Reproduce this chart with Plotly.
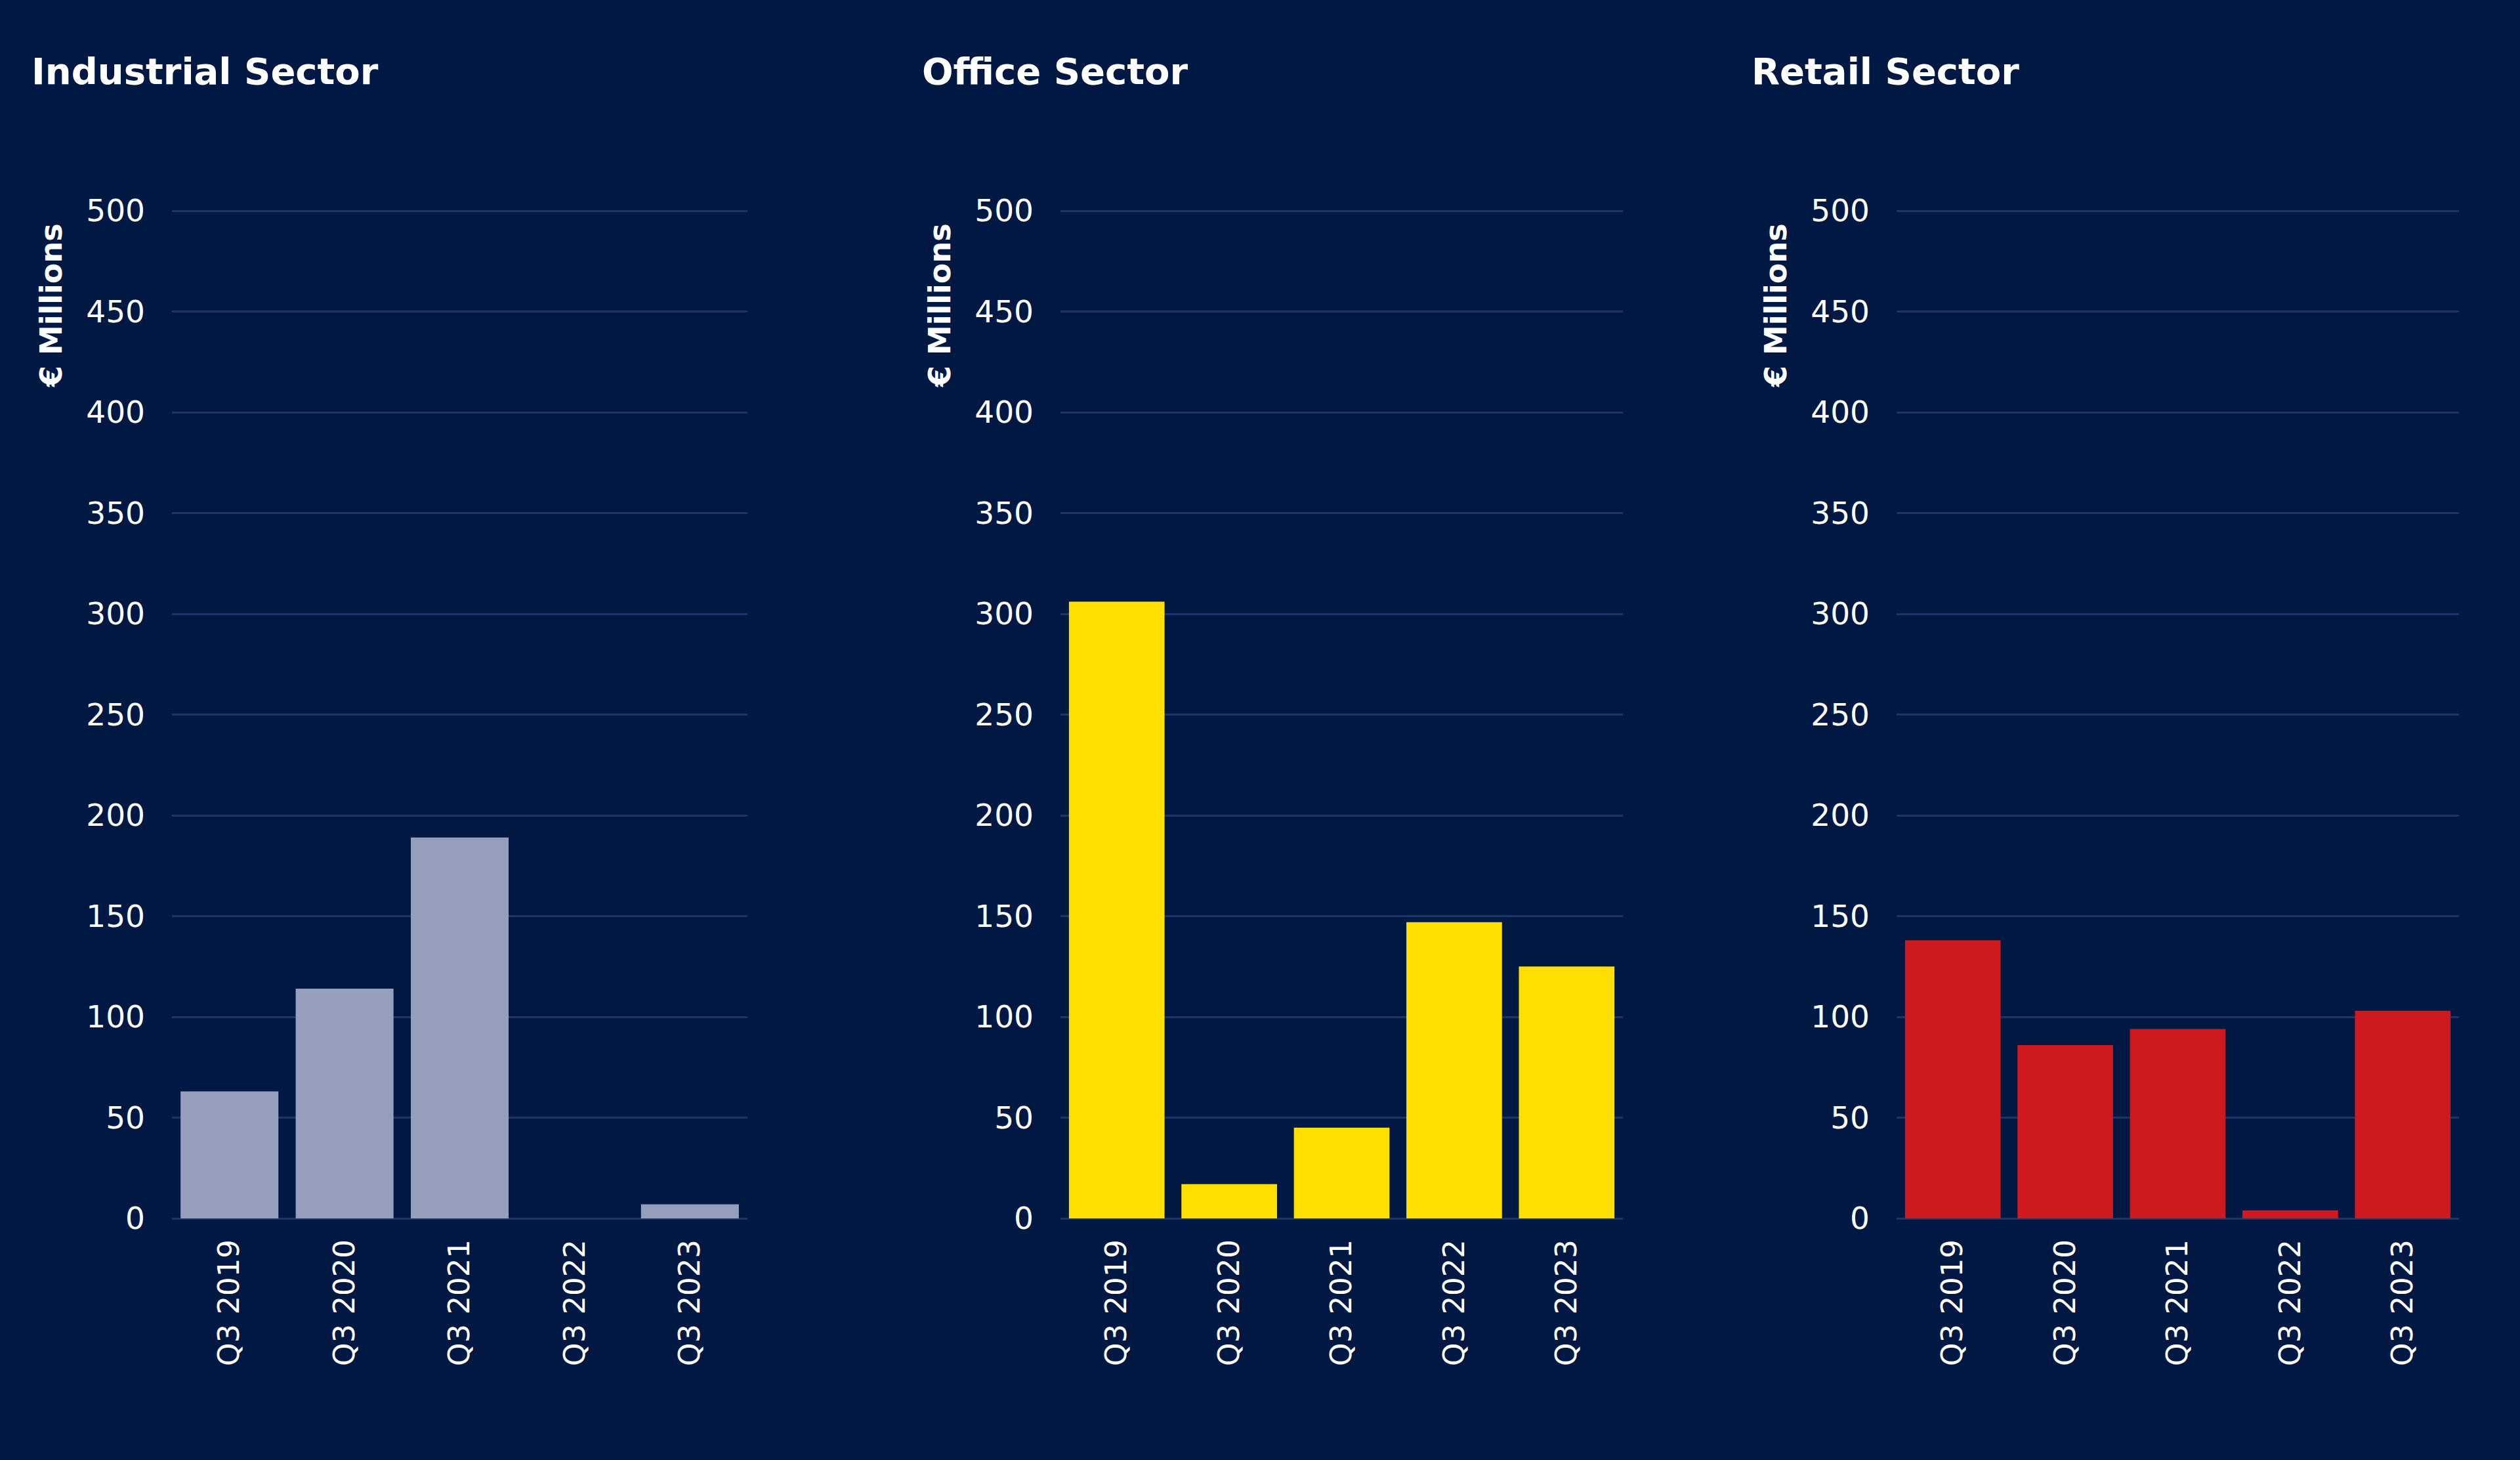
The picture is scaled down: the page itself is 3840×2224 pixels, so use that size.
import plotly.graph_objects as go

quarters = ["Q3 2019", "Q3 2020", "Q3 2021", "Q3 2022", "Q3 2023"]
industrial = [63, 114, 189, 0, 7]
office = [306, 17, 45, 147, 125]
retail = [138, 86, 94, 4, 103]
titles = ["Industrial Sector", "Office Sector", "Retail Sector"]
y_ticks = [0, 50, 100, 150, 200, 250, 300, 350, 400, 450, 500]

W, H = 3840, 2224
BG = "#011843"
GRID = "#1e3464"
FONT = "DejaVu Sans"

series = [industrial, office, retail]
colors = ["#959fbb", "#ffdf00", "#cc1a1e"]
x_dom_px = [(262, 1139), (1616, 2473), (2890, 3747)]
title_x_px = [46, 1403, 2667]
ylab_x_px = [78, 1432, 2706]
# y=500 at 321px, y=0 at 1856px; top of range extended to 503 so 500 gridline shows
y_bottom_px = 1856
y_top_px = 321 - 3 * (1856 - 321) / 500

fig = go.Figure()
for i, (vals, col) in enumerate(zip(series, colors)):
    ax = "" if i == 0 else str(i + 1)
    fig.add_trace(go.Bar(x=quarters, y=vals, marker=dict(color=col, line=dict(width=0)),
                         xaxis="x" + ax, yaxis="y" + ax, showlegend=False))
    d0, d1 = x_dom_px[i]
    fig.layout["xaxis" + ax] = dict(
        domain=[d0 / W, d1 / W], anchor="y" + ax, type="category",
        tickangle=-90, showgrid=False, showline=False, zeroline=False,
        tickfont=dict(family=FONT, size=45, color="#ffffff"), ticks="",
        ticklabelstandoff=22, automargin=False,
    )
    fig.layout["yaxis" + ax] = dict(
        domain=[1 - y_bottom_px / H, 1 - y_top_px / H], anchor="x" + ax,
        range=[0, 503], tickvals=y_ticks, showgrid=True, gridcolor=GRID, gridwidth=3,
        zeroline=True, zerolinecolor=GRID, zerolinewidth=3, showline=False,
        tickfont=dict(family=FONT, size=47, color="#ffffff"), ticks="",
        ticklabelstandoff=40, automargin=False,
    )
    fig.add_annotation(text="<b>" + titles[i] + "</b>", x=title_x_px[i] / W, y=1 - 108 / H,
                       xref="paper", yref="paper", xanchor="left", yanchor="middle",
                       showarrow=False, font=dict(family=FONT, size=56, color="#ffffff"))
    fig.add_annotation(text="<b>€ Millions</b>", x=ylab_x_px[i] / W, y=1 - 465 / H,
                       xref="paper", yref="paper", xanchor="center", yanchor="middle",
                       textangle=-90, showarrow=False,
                       font=dict(family=FONT, size=46, color="#ffffff"))

fig.update_layout(
    template="none",
    width=W, height=H, margin=dict(l=0, r=0, t=0, b=0, pad=0, autoexpand=False),
    paper_bgcolor=BG, plot_bgcolor=BG, bargap=0.15,
)
fig.write_html("out.html")
